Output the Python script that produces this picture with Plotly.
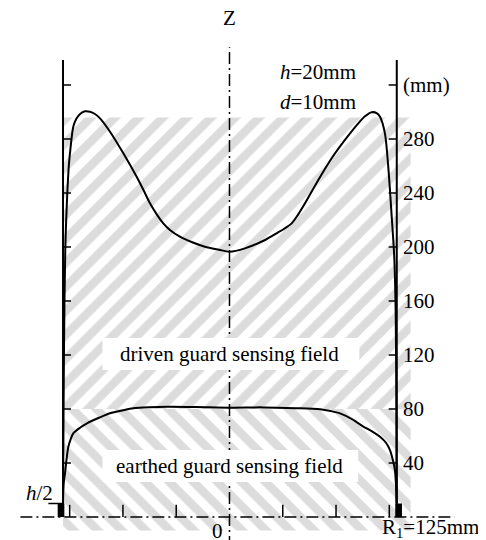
import plotly.graph_objects as go

# ---- data (mm) ----
driven_x = [-125, -124.7, -124.2, -123.3, -122, -120.5, -119.5, -117.3, -115, -112.2, -108.5,
            -104.7, -101, -97.2, -89.7, -79.7, -69.7, -64.5, -59.7, -54.5, -49.7, -44.7,
            -37.2, -28, -18.4, -8, 0, 11.6, 26.7, 36, 41.7, 46.7, 51.5, 56.7, 66.7, 76.7, 86.7,
            96.7, 102, 106.7, 110.5, 113, 116.7, 119.2, 121.8, 123.7, 124.8, 125.3, 125.5]
driven_y = [10, 60, 130, 198, 235, 262, 272, 289, 295, 298.5, 300.5,
            300.2, 298.5, 295.3, 285.4, 269.4, 252, 242, 232.4, 224, 217.5, 212.6,
            207.6, 203.5, 200.2, 198, 196.5, 199, 205.2, 210.5, 213.9, 217.5, 224, 232.4, 249.6, 265.7, 279.3,
            291.6, 297, 299.8, 299.2, 296.5, 284.2, 259.5, 222.4, 192.8, 150, 80, 10]

earthed_x = [-125, -124.9, -124.5, -123.5, -122.3, -121, -119.3, -117.3, -112, -107, -98,
             -89.7, -80, -72.2, -60, -47, -25, 0, 25, 50, 68, 76, 83, 92, 100.5, 107,
             113, 117.5, 120.5, 122.7, 124.2, 125, 125.5]
earthed_y = [10, 16, 25, 32.4, 43, 52, 57.5, 62, 66.3, 69.4, 73.5,
             76.8, 79, 80.5, 81.3, 81.7, 81.5, 81, 81.2, 80.6, 79.8, 78.5, 76.8, 72.5, 67, 63.5,
             59.5, 55, 49.6, 42, 34.8, 24, 10]

y_ticks = [40, 80, 120, 160, 200, 240, 280, 320]
y_tick_labels = ["40", "80", "120", "160", "200", "240", "280", "(mm)"]
x_ticks = [-120, -80, -40, 40, 80, 120]

R1 = 125
h_half = 10
field_split = 80
hatch_top = 296

FONT = "Liberation Serif"
FS = 21

fig = go.Figure()

# hatched regions
pat = dict(fgcolor="#bababa", bgcolor="white", size=17, solidity=0.5)
fig.add_trace(go.Scatter(
    x=[-R1, 136, 136, -R1, -R1], y=[field_split, field_split, hatch_top, hatch_top, field_split],
    mode="none", fill="toself", fillcolor="white", hoverinfo="skip",
    fillpattern=dict(shape="/", **pat)))
fig.add_trace(go.Scatter(
    x=[-R1, 136, 136, -R1, -R1], y=[-10, -10, field_split, field_split, -10],
    mode="none", fill="toself", fillcolor="white", hoverinfo="skip",
    fillpattern=dict(shape="\\", **pat)))

# curves
fig.add_trace(go.Scatter(x=driven_x, y=driven_y, mode="lines",
                         line=dict(color="black", width=2, shape="spline", smoothing=0.8)))
fig.add_trace(go.Scatter(x=earthed_x, y=earthed_y, mode="lines",
                         line=dict(color="black", width=2, shape="spline", smoothing=0.8)))

shapes = []
# centre axis (dash-dot)
shapes.append(dict(type="line", x0=0, x1=0, y0=-23, y1=348,
                   line=dict(color="black", width=1.5, dash="12px,4px,2px,4px"), layer="above"))
# white label boxes
shapes.append(dict(type="rect", x0=-95.4, x1=97.5, y0=108.9, y1=132.6, fillcolor="white",
                   line=dict(width=0), layer="above"))
shapes.append(dict(type="rect", x0=-95.4, x1=96.7, y0=25.9, y1=49.6, fillcolor="white",
                   line=dict(width=0), layer="above"))
# vertical axes
for xa in (-R1, R1 + 0.6):
    shapes.append(dict(type="line", x0=xa, x1=xa, y0=0, y1=338.5,
                       line=dict(color="black", width=2), layer="above"))
# y ticks
for t in y_ticks:
    shapes.append(dict(type="line", x0=R1 + 0.6, x1=R1 - 5.5, y0=t, y1=t,
                       line=dict(color="black", width=1.5), layer="above"))
    shapes.append(dict(type="line", x0=-R1, x1=-R1 + 6, y0=t, y1=t,
                       line=dict(color="black", width=1.5), layer="above"))
# baseline (dash-dot)
shapes.append(dict(type="line", x0=-157, x1=169, y0=0, y1=0,
                   line=dict(color="black", width=1.5, dash="12px,4px,2px,4px"), layer="above"))
# x ticks
for t in x_ticks:
    shapes.append(dict(type="line", x0=t, x1=t, y0=0, y1=9,
                       line=dict(color="black", width=1.5), layer="above"))
# h/2 marker
shapes.append(dict(type="line", x0=-136, x1=-R1, y0=h_half, y1=h_half,
                   line=dict(color="black", width=1.5), layer="above"))
# electrodes
shapes.append(dict(type="rect", x0=-129, x1=-124, y0=0, y1=h_half, fillcolor="black",
                   line=dict(width=0), layer="above"))
shapes.append(dict(type="rect", x0=124.5, x1=129.5, y0=0, y1=h_half, fillcolor="black",
                   line=dict(width=0), layer="above"))

ann = []
for t, lab in zip(y_ticks, y_tick_labels):
    ann.append(dict(x=128.5, y=t, text=lab, xanchor="left", yanchor="middle", showarrow=False))
ann += [
    dict(x=0, y=121, text="driven guard sensing field", showarrow=False, yanchor="middle"),
    dict(x=0, y=37.5, text="earthed guard sensing field", showarrow=False, yanchor="middle"),
    dict(x=0, y=370, text="Z", showarrow=False, yanchor="middle"),
    dict(x=36.5, y=329.5, text="<i>h</i>=20mm", showarrow=False, xanchor="left", yanchor="middle"),
    dict(x=36.5, y=307.5, text="<i>d</i>=10mm", showarrow=False, xanchor="left", yanchor="middle"),
    dict(x=-143, y=17.5, text="<i>h</i>/2", showarrow=False, yanchor="middle"),
    dict(x=-3.5, y=-10, text="0", showarrow=False, xanchor="right", yanchor="middle"),
    dict(x=113, y=-8, text="R<sub>1</sub>=125mm", showarrow=False, xanchor="left", yanchor="middle"),
]

fig.update_layout(
    width=486, height=540, autosize=False,
    margin=dict(l=0, r=0, t=0, b=0, pad=0),
    paper_bgcolor="white", plot_bgcolor="white",
    showlegend=False,
    font=dict(family=FONT, size=FS, color="black"),
    xaxis=dict(range=[-166.3, 198.6], visible=False, fixedrange=True),
    yaxis=dict(range=[-22.96, 377.04], visible=False, fixedrange=True),
    shapes=shapes, annotations=ann,
)

fig.write_html("out.html")
